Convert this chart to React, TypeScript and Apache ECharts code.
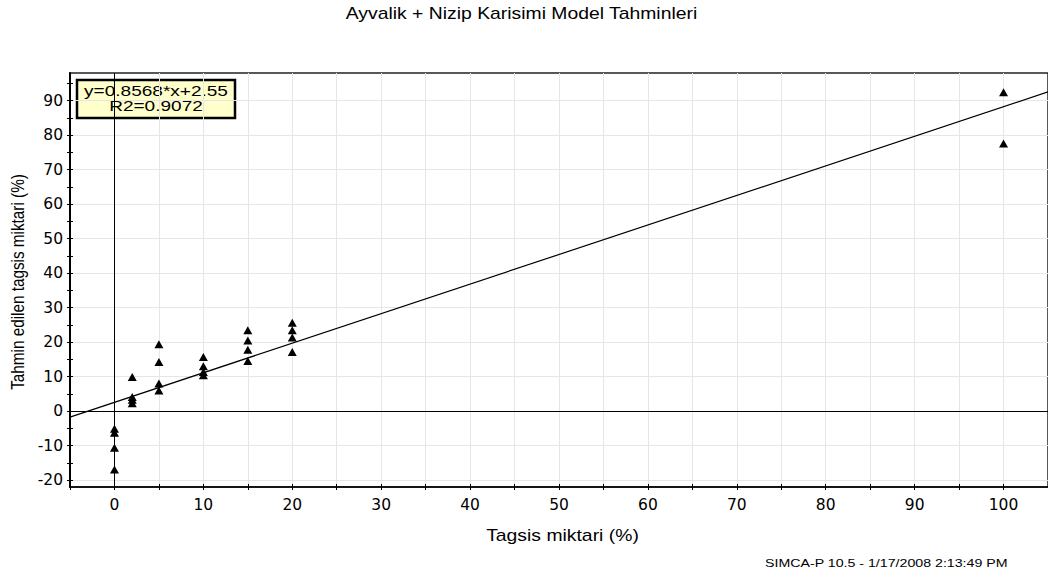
import React, { useEffect, useRef } from "react";
import * as echarts from "echarts";

// ---- data ----
const TITLE = "Ayvalik + Nizip Karisimi Model Tahminleri";
const X_NAME = "Tagsis miktari (%)";
const Y_NAME = "Tahmin edilen tagsis miktari (%)";
const FOOTER = "SIMCA-P 10.5 - 1/17/2008 2:13:49 PM";

// actual adulteration level (%)
const ACTUAL = [0, 0, 0, 0, 2, 2, 2, 2, 5, 5, 5, 5, 10, 10, 10, 10, 15, 15, 15, 15, 20, 20, 20, 20, 100, 100];
// model predicted level (%)
const PREDICTED = [
  -5.1, -6.3, -10.6, -16.9,
  9.9, 4.1, 3.3, 2.3,
  19.4, 14.2, 8.0, 6.0,
  15.7, 13.0, 11.3, 10.4,
  23.4, 20.5, 17.8, 14.5,
  25.6, 23.4, 21.3, 17.1,
  92.4, 77.6,
];

const FIT_SLOPE = 0.8568;
const FIT_INTERCEPT = 2.55;
const FIT_R2 = 0.9072;

const X_MIN = -5;
const X_MAX = 105;
const Y_MIN = -22;
const Y_MAX = 98;
const X_LABELS = [0, 10, 20, 30, 40, 50, 60, 70, 80, 90, 100];
const Y_MAJOR = [-20, -10, 0, 10, 20, 30, 40, 50, 60, 70, 80, 90];
const Y_MINOR = [-20, -15, -10, -5, 0, 5, 10, 15, 20, 25, 30, 35, 40, 45, 50, 55, 60, 65, 70, 75, 80, 85, 90, 95];

const GFONT = "'Liberation Sans', Arial, sans-serif";
const AFONT = "'DejaVu Sans', sans-serif";

export default function App() {
  const ref = useRef<HTMLDivElement>(null);

  useEffect(() => {
    if (!ref.current) return;
    const chart = echarts.init(ref.current, undefined, { renderer: "svg" });

    const points = ACTUAL.map((x, i) => [x, PREDICTED[i]]);
    const fit = (x: number) => FIT_SLOPE * x + FIT_INTERCEPT;

    const axisLabelStyle = { fontFamily: AFONT, fontSize: 15.5, color: "#000" };

    const option: any = {
      animation: false,
      backgroundColor: "#fff",
      grid: {
        left: 70,
        top: 73,
        bottom: 88,
        right: -6.5,
        show: true,
        borderColor: "#222",
        borderWidth: 1.5,
        backgroundColor: "transparent",
      },
      xAxis: [
        {
          type: "value",
          min: X_MIN,
          max: X_MAX,
          interval: 5,
          position: "bottom",
          axisLine: { show: true, onZero: false, lineStyle: { color: "#000", width: 1.5 } },
          axisTick: { show: true, inside: false, length: 3, lineStyle: { color: "#000" } },
          axisLabel: {
            show: true,
            margin: 10,
            customValues: X_LABELS,
            ...axisLabelStyle,
          },
          splitLine: { show: true, lineStyle: { color: "#e6e6e6", width: 1 } },
        },
        {
          type: "value",
          min: X_MIN,
          max: X_MAX,
          interval: 5,
          position: "bottom",
          axisLine: { show: false, onZero: false },
          axisTick: { show: true, inside: true, length: 3, lineStyle: { color: "#000" } },
          axisLabel: { show: false },
          splitLine: { show: false },
        },
      ],
      yAxis: [
        {
          type: "value",
          min: Y_MIN,
          max: Y_MAX,
          position: "left",
          axisLine: { show: true, onZero: false, lineStyle: { color: "#000", width: 2 } },
          axisTick: { show: true, inside: false, length: 3, customValues: Y_MAJOR, lineStyle: { color: "#000" } },
          axisLabel: { show: true, margin: 7, customValues: Y_MAJOR, ...axisLabelStyle },
          splitLine: { show: true, lineStyle: { color: "#e6e6e6", width: 1 } },
        },
        {
          type: "value",
          min: Y_MIN,
          max: Y_MAX,
          position: "left",
          axisLine: { show: false, onZero: false },
          axisTick: { show: true, inside: false, length: 3, customValues: Y_MINOR, lineStyle: { color: "#000" } },
          axisLabel: { show: false },
          splitLine: { show: false },
        },
        {
          type: "value",
          min: Y_MIN,
          max: Y_MAX,
          position: "left",
          axisLine: { show: false, onZero: false },
          axisTick: { show: true, inside: true, length: 3, customValues: Y_MINOR, lineStyle: { color: "#000" } },
          axisLabel: { show: false },
          splitLine: { show: false },
        },
      ],
      series: [
        {
          type: "line",
          xAxisIndex: 0,
          yAxisIndex: 0,
          data: [
            [X_MIN, fit(X_MIN)],
            [X_MAX, fit(X_MAX)],
          ],
          showSymbol: false,
          symbol: "none",
          silent: true,
          lineStyle: { color: "#000", width: 1.2 },
          z: 3,
        },
        {
          type: "scatter",
          xAxisIndex: 0,
          yAxisIndex: 0,
          data: points,
          symbol: "triangle",
          symbolSize: [9, 8],
          itemStyle: { color: "#000", opacity: 1 },
          z: 4,
          markLine: {
            silent: true,
            symbol: ["none", "none"],
            label: { show: false },
            lineStyle: { color: "#000", width: 1, type: "solid" },
            data: [{ xAxis: 0 }, { yAxis: 0 }],
          },
        },
      ],
      graphic: [
        {
          type: "text",
          x: 521.5,
          y: 13.5,
          scaleX: 1.21,
          style: {
            text: TITLE,
            fontFamily: GFONT,
            fontSize: 16,
            fill: "#000",
            align: "center",
            textAlign: "center",
            verticalAlign: "middle",
            textVerticalAlign: "middle",
          },
        },
        {
          type: "text",
          x: 562.5,
          y: 535.5,
          scaleX: 1.21,
          style: {
            text: X_NAME,
            fontFamily: GFONT,
            fontSize: 16,
            fill: "#000",
            align: "center",
            textAlign: "center",
            verticalAlign: "middle",
            textVerticalAlign: "middle",
          },
        },
        {
          type: "text",
          x: 18,
          y: 282,
          rotation: Math.PI / 2,
          scaleY: 1.15,
          style: {
            text: Y_NAME,
            fontFamily: GFONT,
            fontSize: 15.3,
            fill: "#000",
            align: "center",
            textAlign: "center",
            verticalAlign: "middle",
            textVerticalAlign: "middle",
          },
        },
        {
          type: "text",
          x: 765,
          y: 563.5,
          scaleX: 1.29,
          style: {
            text: FOOTER,
            fontFamily: GFONT,
            fontSize: 11,
            fill: "#000",
            align: "left",
            textAlign: "left",
            verticalAlign: "middle",
            textVerticalAlign: "middle",
          },
        },
        {
          type: "group",
          z: 100,
          children: [
            {
              type: "rect",
              shape: { x: 77, y: 80, width: 158, height: 38 },
              style: { fill: "#FFFFCC", stroke: "#000", lineWidth: 2.5 },
            },
            {
              type: "text",
              x: 156,
              y: 90.5,
              scaleX: 1.27,
              style: {
                text: `y=${FIT_SLOPE}*x+${FIT_INTERCEPT}`,
                fontFamily: GFONT,
                fontSize: 15,
                fill: "#000",
                align: "center",
                textAlign: "center",
                verticalAlign: "middle",
                textVerticalAlign: "middle",
              },
            },
            {
              type: "text",
              x: 156,
              y: 105.5,
              scaleX: 1.27,
              style: {
                text: `R2=${FIT_R2}`,
                fontFamily: GFONT,
                fontSize: 15,
                fill: "#000",
                align: "center",
                textAlign: "center",
                verticalAlign: "middle",
                textVerticalAlign: "middle",
              },
            },
          ],
        },
      ],
    };

    chart.setOption(option);
    return () => chart.dispose();
  }, []);

  return (
    <div
      ref={ref}
      style={{ position: "fixed", left: 0, top: 0, width: 1048, height: 575, background: "#fff" }}
    />
  );
}
